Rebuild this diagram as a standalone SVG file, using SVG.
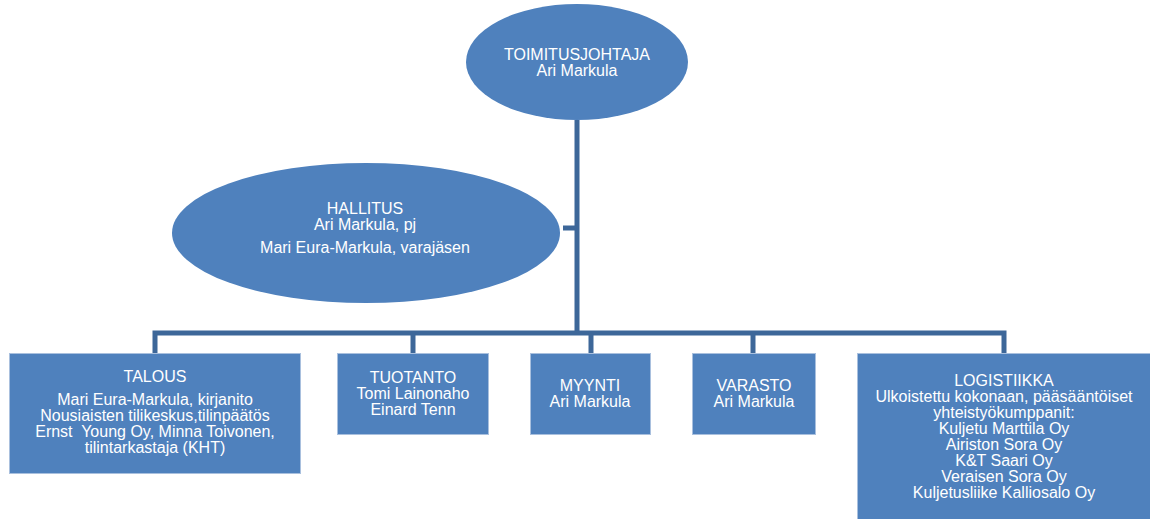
<svg xmlns="http://www.w3.org/2000/svg" width="1150" height="519" viewBox="0 0 1150 519">
<style>
.node{fill:#4f81bd;stroke:#a9c0de;stroke-width:1}
.ell{fill:#4f81bd}
.t{font-family:"Liberation Sans",Arial,sans-serif;font-size:16px;fill:#ffffff;text-anchor:middle}
.c{fill:none;stroke:#3d6799;stroke-width:5;stroke-linejoin:miter}
</style>
<rect width="1150" height="519" fill="#ffffff"/>
<g id="connectors">
<path class="c" d="M577,120 V333"/>
<path class="c" d="M563,228 H577"/>
<path class="c" d="M155,353 V333 H1004 V353"/>
<path class="c" d="M413,333 V353"/>
<path class="c" d="M591,333 V353"/>
<path class="c" d="M753,333 V353"/>
</g>
<g id="toimitusjohtaja">
<ellipse class="ell" cx="577" cy="62" rx="111" ry="58"/>
<text class="t" x="577" y="60">TOIMITUSJOHTAJA</text>
<text class="t" x="577" y="76">Ari Markula</text>
</g>
<g id="hallitus">
<ellipse class="ell" cx="366" cy="233" rx="194" ry="70"/>
<text class="t" x="365" y="214">HALLITUS</text>
<text class="t" x="365" y="230">Ari Markula, pj</text>
<text class="t" x="365" y="253">Mari Eura-Markula, varajäsen</text>
</g>
<g id="talous">
<rect class="node" x="9.5" y="353.5" width="291" height="120"/>
<text class="t" x="155" y="382">TALOUS</text>
<text class="t" x="155" y="405">Mari Eura-Markula, kirjanito</text>
<text class="t" x="155" y="421">Nousiaisten tilikeskus,tilinpäätös</text>
<text class="t" x="155" y="437" xml:space="preserve">Ernst  Young Oy, Minna Toivonen,</text>
<text class="t" x="155" y="453">tilintarkastaja (KHT)</text>
</g>
<g id="tuotanto">
<rect class="node" x="337.5" y="353.5" width="151" height="81"/>
<text class="t" x="413" y="383">TUOTANTO</text>
<text class="t" x="413" y="399">Tomi Lainonaho</text>
<text class="t" x="413" y="415">Einard Tenn</text>
</g>
<g id="myynti">
<rect class="node" x="530.5" y="353.5" width="120" height="81"/>
<text class="t" x="590" y="391">MYYNTI</text>
<text class="t" x="590" y="407">Ari Markula</text>
</g>
<g id="varasto">
<rect class="node" x="692.5" y="353.5" width="123" height="81"/>
<text class="t" x="754" y="391">VARASTO</text>
<text class="t" x="754" y="407">Ari Markula</text>
</g>
<g id="logistiikka">
<rect class="node" x="857.5" y="353.5" width="294" height="170"/>
<text class="t" x="1004" y="386">LOGISTIIKKA</text>
<text class="t" x="1004" y="402">Ulkoistettu kokonaan, pääsääntöiset</text>
<text class="t" x="1004" y="418">yhteistyökumppanit:</text>
<text class="t" x="1004" y="434">Kuljetu Marttila Oy</text>
<text class="t" x="1004" y="450">Airiston Sora Oy</text>
<text class="t" x="1004" y="466">K&amp;T Saari Oy</text>
<text class="t" x="1004" y="482">Veraisen Sora Oy</text>
<text class="t" x="1004" y="498">Kuljetusliike Kalliosalo Oy</text>
</g>
</svg>
